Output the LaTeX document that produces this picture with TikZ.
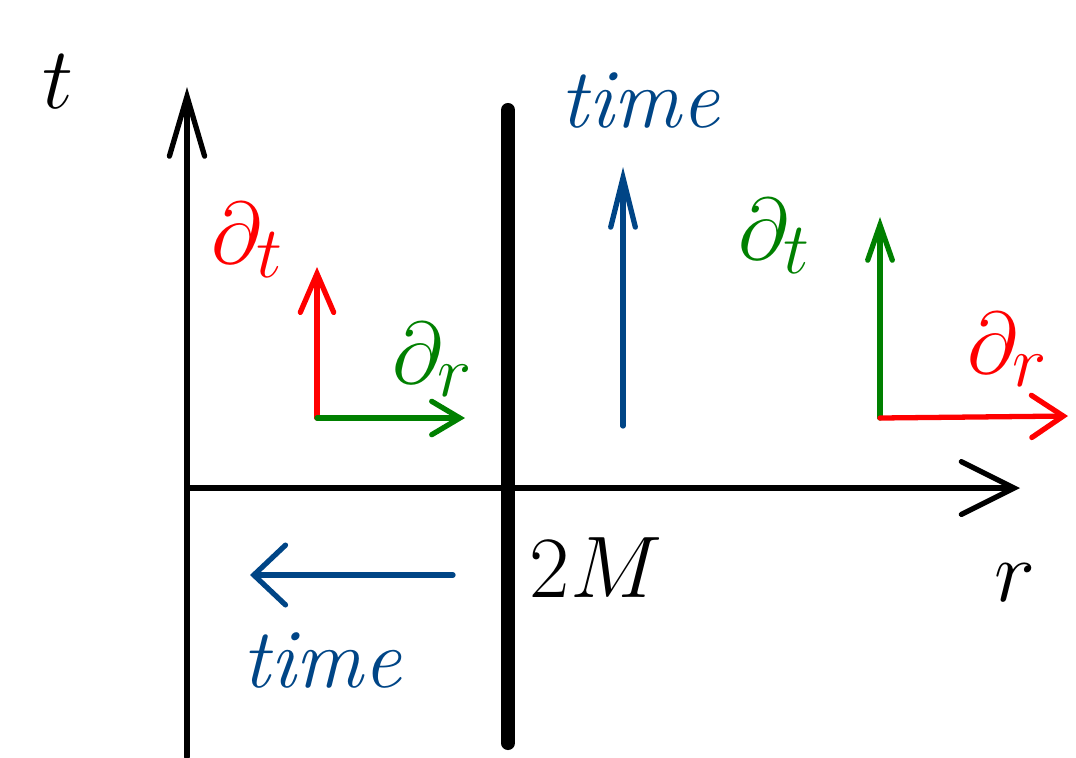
\documentclass[tikz,border=0pt]{standalone}
\usetikzlibrary{arrows.meta}
\definecolor{tblue}{RGB}{0,69,134}
\definecolor{tred}{RGB}{255,0,0}
\definecolor{tgreen}{RGB}{0,128,0}
\begin{document}
\begin{tikzpicture}[x=0.01cm,y=-0.01cm,
  axisline/.style={line width=1.5pt,line cap=round},
  vecline/.style={line width=1.5pt,line cap=round},
  lbl/.style={inner sep=0pt},
  timefont/.style={font=\fontsize{24}{28}\selectfont\itshape},
  dfont/.style={font=\fontsize{28}{32}\selectfont}]
\useasboundingbox (0,0) rectangle (1076,757);
% coordinates
\coordinate (tbot) at (187,757);
\coordinate (ttop) at (187,87);
\coordinate (rleft) at (187,488);
\coordinate (rright) at (1020,488);
\coordinate (htop) at (508,110);
\coordinate (hbot) at (508,743);
\coordinate (bvbot) at (623,426);
\coordinate (bvtop) at (623,167);
\coordinate (bhr) at (453,575);
\coordinate (bhl) at (250,575);
\coordinate (o1) at (317,418);
\coordinate (o1t) at (317,267);
\coordinate (o1r) at (465,418);
\coordinate (o2) at (880,418);
\coordinate (o2t) at (880,217);
\coordinate (o2r) at (1068,416);
% axes
\draw[axisline,-{Straight Barb[length=17pt,width=10pt,line cap=round]}] (tbot) -- (ttop);
\draw[axisline,-{Straight Barb[length=15pt,width=15pt,line cap=round]}] (rleft) -- (rright);
% horizon
\draw[line width=4pt,line cap=round] (htop) -- (hbot);
% blue arrows
\draw[vecline,tblue,-{Straight Barb[length=14pt,width=7pt,line cap=round]}] (bvbot) -- (bvtop);
\draw[vecline,tblue,-{Straight Barb[length=9pt,width=17pt,line cap=round]}] (bhr) -- (bhl);
% left frame
\draw[vecline,tred,-{Straight Barb[length=11pt,width=9.5pt,line cap=round]}] (o1) -- (o1t);
\draw[vecline,tgreen,-{Straight Barb[length=8pt,width=9.5pt,line cap=round]}] (o1) -- (o1r);
% right frame
\draw[vecline,tgreen,-{Straight Barb[length=10pt,width=7pt,line cap=round]}] (o2) -- (o2t);
\draw[vecline,tred,-{Straight Barb[length=9pt,width=12pt,line cap=round]}] (o2) -- (o2r);
% labels
\node[lbl,font=\fontsize{40}{44}\selectfont] (tl) at (58,82) {$t$};
\node[lbl,font=\fontsize{32}{36}\selectfont] (rl) at (1015,583) {$r$};
\node[lbl,font=\fontsize{32}{36}\selectfont] (ml) at (596,568) {$2M$};
\node[lbl,tblue,timefont] (time1) at (640,100) {time};
\node[lbl,tblue,timefont] (time2) at (322,660) {time};
\node[lbl,tred,dfont] (dt1) at (248,240) {$\partial_t$};
\node[lbl,tgreen,dfont] (dr1) at (433,360) {$\partial_r$};
\node[lbl,tgreen,dfont] (dt2) at (775,236) {$\partial_t$};
\node[lbl,tred,dfont] (dr2) at (1008,350) {$\partial_r$};
\end{tikzpicture}
\end{document}
